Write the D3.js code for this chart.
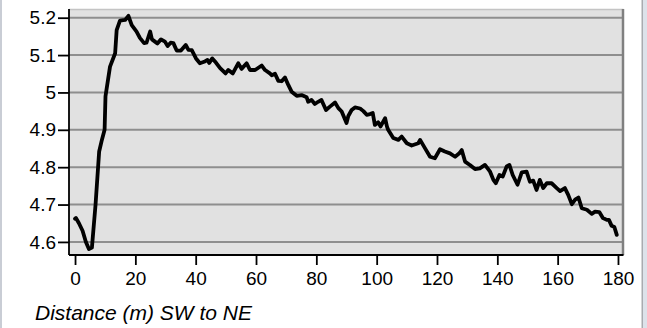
<!DOCTYPE html>
<html>
<head>
<meta charset="utf-8">
<script src="https://cdn.jsdelivr.net/npm/d3@7"></script>
<style>
  body { margin: 0; background: #fff; }
  svg { display: block; }
  text { font-family: "Liberation Sans", Arial, sans-serif; fill: #000; }
</style>
</head>
<body>
<script>
// profile along transect: distance (m) and measured value
let distance = [0, 0.3, 1.3, 2.5, 3.6, 4.6, 5.6, 6.8, 8, 8.9, 9.8, 10.1, 11.6, 13.3, 13.8, 14.9, 16.6, 17.7,
  18.8, 20.4, 21.5, 22.9, 23.7, 24.9, 25.5, 26.5, 27.3, 28.5, 29.8, 30.7, 31.7, 32.6, 33.7, 35.1, 36.7, 37.6,
  38.7, 40.1, 41.4, 42.8, 43.9, 44.5, 45.5, 46.7, 48.1, 49.9, 50.8, 52.3, 54.1, 55.2, 56.9, 58, 59.7, 61.9,
  63, 64.6, 65.2, 66.3, 67.4, 68.5, 69.6, 70.7, 71.8, 73.5, 75.1, 76.8, 77.3, 78.4, 79.5, 80.6, 81.7, 83.2,
  84.5, 86.2, 87.3, 88.4, 90, 90.6, 91.7, 92.8, 94.5, 95.6, 96.7, 97.8, 98.7, 99.4, 100.5, 101.3, 102.8,
  103.4, 103.8, 105.5, 107.2, 108.3, 110, 111.6, 113.8, 114.4, 116, 117.7, 119.3, 121, 122.6, 124.3, 126,
  127.4, 128.2, 129.3, 130.9, 132.6, 134.2, 135.9, 137.6, 138.7, 139.5, 140.7, 141.8, 143.1, 144, 145.1,
  146.7, 148.1, 149.7, 150.8, 151.9, 153, 154.1, 155.2, 156.4, 158, 159.7, 160.8, 162.4, 163.5, 164.7,
  165.8, 166.9, 168, 169.7, 171.3, 172.4, 173.8, 175, 176.3, 177, 177.9, 178.8, 179.6]
let value = [4.662, 4.664, 4.65, 4.63, 4.6, 4.581, 4.585, 4.7, 4.842, 4.873, 4.9, 4.99, 5.069, 5.105, 5.167, 5.192, 5.194, 5.205,
  5.18, 5.163, 5.146, 5.132, 5.133, 5.163, 5.142, 5.136, 5.131, 5.142, 5.136, 5.124, 5.133, 5.132, 5.112, 5.112, 5.127, 5.114,
  5.113, 5.091, 5.078, 5.082, 5.087, 5.079, 5.091, 5.08, 5.065, 5.051, 5.06, 5.051, 5.078, 5.063, 5.078, 5.06, 5.06, 5.072,
  5.06, 5.051, 5.046, 5.05, 5.031, 5.03, 5.04, 5.02, 5.002, 4.991, 4.993, 4.987, 4.975, 4.98, 4.969, 4.975, 4.98, 4.953,
  4.962, 4.973, 4.958, 4.949, 4.918, 4.937, 4.953, 4.96, 4.957, 4.95, 4.94, 4.942, 4.945, 4.913, 4.92, 4.909, 4.931,
  4.909, 4.9, 4.878, 4.873, 4.882, 4.864, 4.858, 4.864, 4.873, 4.851, 4.828, 4.824, 4.848, 4.842, 4.837, 4.828,
  4.837, 4.846, 4.815, 4.806, 4.795, 4.797, 4.806, 4.788, 4.766, 4.757, 4.779, 4.775, 4.802, 4.806, 4.779,
  4.753, 4.786, 4.788, 4.761, 4.764, 4.739, 4.766, 4.744, 4.757, 4.757, 4.744, 4.736, 4.744, 4.726, 4.701,
  4.713, 4.719, 4.69, 4.686, 4.675, 4.681, 4.68, 4.664, 4.659, 4.659, 4.643, 4.64, 4.619]

let xTicks = [0, 20, 40, 60, 80, 100, 120, 140, 160, 180]
let yTicks = [4.6, 4.7, 4.8, 4.9, 5.0, 5.1, 5.2]
let xTitle = "Distance (m) SW to NE"

let W = 647, H = 328
let plot = { left: 69, right: 622.5, top: 10, bottom: 255 }

let svg = d3.select("body").append("svg")
  .attr("width", W)
  .attr("height", H)

// side frame of the panel
svg.append("rect").attr("x", 0).attr("y", 0).attr("width", 2).attr("height", H).attr("fill", "#c9cdd5")
svg.append("rect").attr("x", 643).attr("y", 0).attr("width", 4).attr("height", H).attr("fill", "#dde2ea")
svg.append("rect").attr("x", 641.5).attr("y", 0).attr("width", 1.5).attr("height", H).attr("fill", "#a9abb0")

let x = d3.scaleLinear().domain([-2, 181.5]).range([plot.left, plot.right])
let y = d3.scaleLinear().domain([4.565, 5.2206]).range([plot.bottom, plot.top])

// plot background
svg.append("rect")
  .attr("x", plot.left).attr("y", plot.top)
  .attr("width", plot.right - plot.left).attr("height", plot.bottom - plot.top)
  .attr("fill", "#e1e1e1")

// horizontal grid
svg.append("g").selectAll("line")
  .data(yTicks)
  .enter().append("line")
  .attr("x1", plot.left).attr("x2", plot.right)
  .attr("y1", d => y(d)).attr("y2", d => y(d))
  .attr("stroke", "#8e8e8e")
  .attr("stroke-width", 2)

// top and right border
svg.append("line").attr("x1", plot.left).attr("x2", plot.right + 1)
  .attr("y1", plot.top - 0.5).attr("y2", plot.top - 0.5)
  .attr("stroke", "#c4c4c4").attr("stroke-width", 1.5)
svg.append("line").attr("x1", plot.right + 0.5).attr("x2", plot.right + 0.5)
  .attr("y1", plot.top - 1).attr("y2", plot.bottom)
  .attr("stroke", "#808080").attr("stroke-width", 2.5)

// the profile line
let line = d3.line()
  .x((d, i) => x(distance[i]))
  .y(d => y(d))

svg.append("path")
  .datum(value)
  .attr("d", line)
  .attr("fill", "none")
  .attr("stroke", "#000")
  .attr("stroke-width", 3.8)
  .attr("stroke-linejoin", "round")
  .attr("stroke-linecap", "round")

// axes
let yAxis = d3.axisLeft(y)
  .tickValues(yTicks)
  .tickFormat(d => d3.format("")(+d.toFixed(1)))
  .tickSize(11)
  .tickPadding(2)
let xAxis = d3.axisBottom(x)
  .tickValues(xTicks)
  .tickSize(10)
  .tickPadding(7)

let gy = svg.append("g")
  .attr("transform", `translate(${plot.left},0)`)
  .call(yAxis)
let gx = svg.append("g")
  .attr("transform", `translate(0,${plot.bottom})`)
  .call(xAxis)

for (let g of [gx, gy]) {
  g.selectAll(".domain").attr("stroke", "#000").attr("stroke-width", 1.8)
  g.selectAll(".tick line").attr("stroke", "#000").attr("stroke-width", 1.8)
  g.selectAll(".tick text").attr("font-size", 19).attr("font-family", "Liberation Sans, Arial, sans-serif")
}
gy.select(".domain").attr("d", `M0,${plot.top - 1}V${plot.bottom}`)
gx.select(".domain").attr("d", `M${plot.left},0H${plot.right + 1}`)

svg.append("text")
  .attr("x", 35)
  .attr("y", 320)
  .attr("font-size", 21)
  .attr("font-style", "italic")
  .text(xTitle)
</script>
</body>
</html>
